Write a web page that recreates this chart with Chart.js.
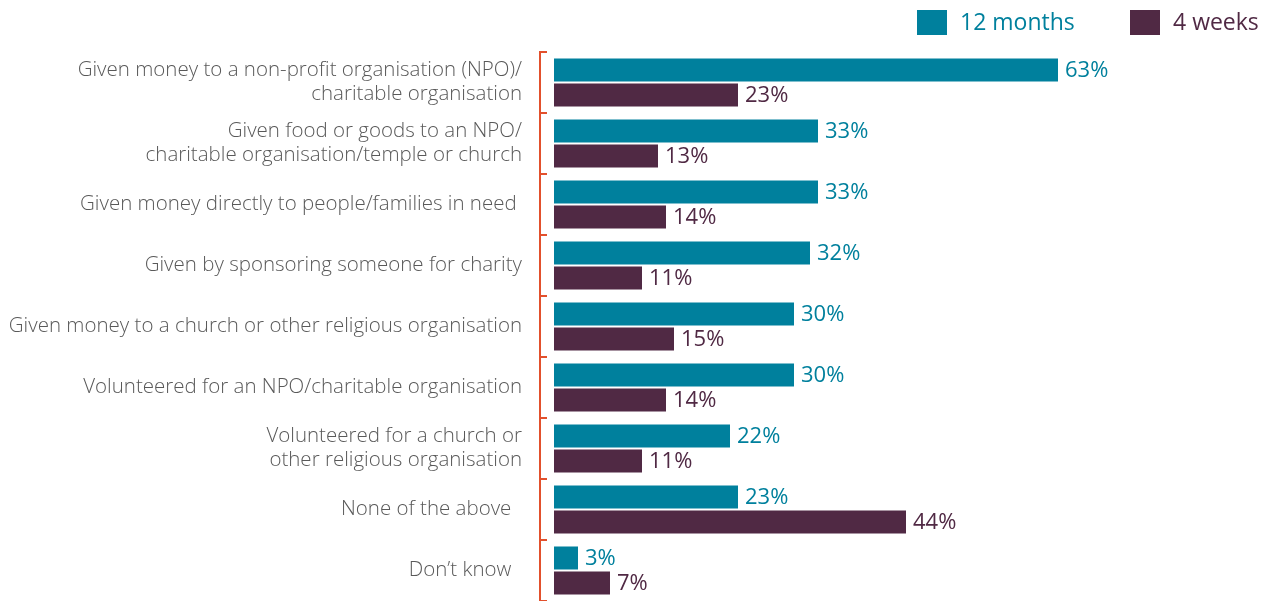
<!DOCTYPE html>
<html>
<head>
<meta charset="utf-8">
<script src="https://cdn.jsdelivr.net/npm/chart.js@4.4.0/dist/chart.umd.min.js"></script>
<style>
html,body{margin:0;padding:0;background:#fff;}
#wrap{width:1269px;height:601px;position:relative;}
</style>
</head>
<body>
<div id="wrap"><canvas id="c" width="1269" height="601"></canvas></div>
<script>
const categories = [
  ["Given money to a non-profit organisation (NPO)/", "charitable organisation"],
  ["Given food or goods to an NPO/", "charitable organisation/temple or church"],
  "Given money directly to people/families in need ",
  "Given by sponsoring someone for charity",
  "Given money to a church or other religious organisation",
  "Volunteered for an NPO/charitable organisation",
  ["Volunteered for a church or", "other religious organisation"],
  "None of the above  ",
  "Don\u2019t know  "
];
const seriesNames = ["12 months", "4 weeks"];
const months12 = [63, 33, 33, 32, 30, 30, 22, 23, 3];
const weeks4 = [23, 13, 14, 11, 15, 14, 11, 44, 7];

const TEAL = "#00809D";
const PURPLE = "#502944";
const AXIS = "#E2502C";
const FONT = "'Open Sans', 'Noto Sans', sans-serif";

const axisPlugin = {
  id: 'bracketAxis',
  afterDatasetsDraw(chart) {
    const ctx = chart.ctx;
    const top = chart.chartArea.top, bottom = chart.chartArea.bottom;
    const n = categories.length;
    const step = (bottom - top) / n;
    ctx.save();
    ctx.strokeStyle = AXIS;
    ctx.lineWidth = 2;
    ctx.beginPath();
    ctx.moveTo(540, top);
    ctx.lineTo(540, bottom);
    for (let i = 0; i <= n; i++) {
      const y = Math.round(top + i * step);
      ctx.moveTo(539, y);
      ctx.lineTo(547, y);
    }
    ctx.stroke();
    ctx.restore();
  }
};

const labelPlugin = {
  id: 'valueLabels',
  afterDatasetsDraw(chart) {
    const ctx = chart.ctx;
    ctx.save();
    ctx.font = "400 22px " + FONT;
    ctx.textBaseline = 'middle';
    ctx.textAlign = 'left';
    chart.data.datasets.forEach((ds, di) => {
      const meta = chart.getDatasetMeta(di);
      ctx.fillStyle = ds.backgroundColor;
      meta.data.forEach((bar, i) => {
        ctx.fillText(ds.data[i] + "%", bar.x + 7, bar.y + 1);
      });
    });
    ctx.restore();
  }
};

const legendPlugin = {
  id: 'customLegend',
  afterDraw(chart) {
    const ctx = chart.ctx;
    ctx.save();
    ctx.font = "400 23px " + FONT;
    ctx.textBaseline = 'middle';
    ctx.textAlign = 'left';
    const items = [
      {x: 917, color: TEAL, text: seriesNames[0]},
      {x: 1130, color: PURPLE, text: seriesNames[1]}
    ];
    items.forEach(it => {
      ctx.fillStyle = it.color;
      ctx.fillRect(it.x, 10, 30, 25);
      ctx.fillText(it.text, it.x + 43, 23);
    });
    ctx.restore();
  }
};

new Chart(document.getElementById('c'), {
  type: 'bar',
  data: {
    labels: categories,
    datasets: [
      {label: seriesNames[0], data: months12, backgroundColor: TEAL, categoryPercentage: 0.82, barPercentage: 0.92},
      {label: seriesNames[1], data: weeks4, backgroundColor: PURPLE, categoryPercentage: 0.82, barPercentage: 0.92}
    ]
  },
  options: {
    indexAxis: 'y',
    responsive: false,
    animation: false,
    devicePixelRatio: 1,
    layout: {padding: {top: 52, right: 8, bottom: 0, left: 0}},
    plugins: {legend: {display: false}, tooltip: {enabled: false}},
    scales: {
      x: {display: false, min: -1.625, max: 88.375},
      y: {
        grid: {display: false, drawTicks: false},
        border: {display: false},
        ticks: {
          padding: 19,
          color: '#595959',
          font: {family: FONT, size: 20.5, weight: '300', lineHeight: 1.17}
        },
        afterFit(scale) {
          scale.width = 541;
          scale.paddingTop = 0;
          scale.paddingBottom = 0;
        }
      }
    }
  },
  plugins: [axisPlugin, labelPlugin, legendPlugin]
});
</script>
</body>
</html>
